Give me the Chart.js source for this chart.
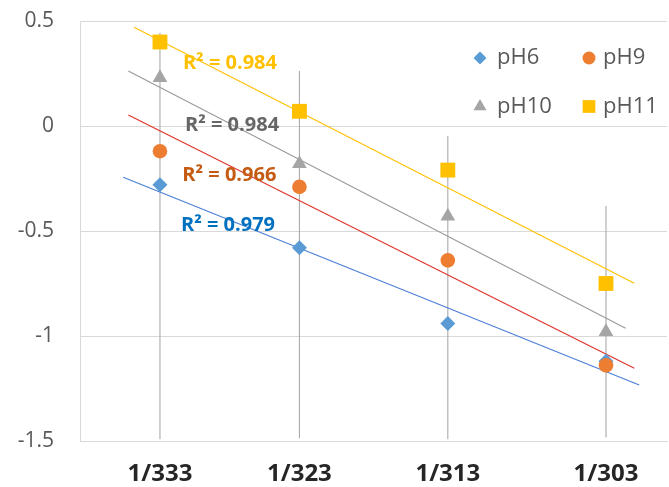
<!DOCTYPE html>
<html><head><meta charset="utf-8">
<script src="https://cdn.jsdelivr.net/npm/chart.js@4"></script>
<style>html,body{margin:0;padding:0;background:#fff;}#wrap{width:669px;height:487px;}</style>
</head><body><div id="wrap"><canvas id="c" width="669" height="487"></canvas></div>
<script>
// ---- data ----
const temperatures = [333, 323, 313, 303];
const xTickLabels = ['1/333', '1/323', '1/313', '1/303'];
const xValues = temperatures.map(t => 1 / t);
const seriesNames = ['pH6', 'pH9', 'pH10', 'pH11'];
const pH6 = [-0.28, -0.58, -0.94, -1.12];
const pH9 = [-0.12, -0.29, -0.64, -1.14];
const pH10 = [0.23, -0.18, -0.43, -0.98];
const pH11 = [0.40, 0.07, -0.21, -0.75];
const rSquared = ['0.979', '0.966', '0.984', '0.984'];
// trendline end points
const trendStartX = [0.0029785, 0.0029819, 0.0029819, 0.0029857];
const trendStartY = [-0.244, 0.052, 0.262, 0.470];
const trendEndX = [0.0033225, 0.0033192, 0.0033134, 0.0033192];
const trendEndY = [-1.233, -1.154, -0.963, -0.749];
// vertical error bars
const errorTop = [0.444, 0.262, -0.048, -0.381];
const errorBottom = [-1.492, -1.487, -1.492, -1.483];
const yTicks = [-1.5, -1, -0.5, 0, 0.5];

// ---- styles ----
const seriesValues = [pH6, pH9, pH10, pH11];
const markerColors = ['#5B9BD5', '#ED7D31', '#A5A5A5', '#FFC000'];
const markerStyles = ['rectRot', 'circle', 'triangle', 'rect'];
const markerRadius = [7.5, 7.3, 8.5, 10.5];
const legendRadius = [6.5, 6.5, 7.5, 9];
const trendColors = ['#4A7FD6', '#E0322B', '#9A9A9A', '#FFC000'];
const labelColors = ['#0070C0', '#C55A11', '#666666', '#FFC000'];
const labelAnchors = [
  {x: 0.0030170, y: -0.473},
  {x: 0.0030179, y: -0.233},
  {x: 0.0030197, y: 0.005},
  {x: 0.0030183, y: 0.30}
];
const legendLayout = [
  {x: 480, y: 58, tx: 497}, {x: 589, y: 58, tx: 603},
  {x: 480, y: 106.5, tx: 497}, {x: 589, y: 106.5, tx: 603}
];
const FONT = "'Open Sans', 'DejaVu Sans', sans-serif";

const datasets = [];
seriesValues.forEach((vals, i) => {
  datasets.push({
    type: 'scatter', label: seriesNames[i],
    data: vals.map((v, k) => ({x: xValues[k], y: v})),
    pointStyle: markerStyles[i], pointRadius: markerRadius[i],
    backgroundColor: markerColors[i], borderColor: markerColors[i], borderWidth: 0,
    showLine: false, order: 1 - i * 0.1
  });
});
seriesValues.forEach((vals, i) => {
  datasets.push({
    type: 'line', label: 'trend ' + seriesNames[i],
    data: [{x: trendStartX[i], y: trendStartY[i]}, {x: trendEndX[i], y: trendEndY[i]}],
    borderColor: trendColors[i], borderWidth: 1.1, pointRadius: 0, fill: false, order: 5
  });
});
xValues.forEach((xv, k) => {
  datasets.push({
    type: 'line', label: 'err' + k,
    data: [{x: xv, y: errorTop[k]}, {x: xv, y: errorBottom[k]}],
    borderColor: '#ABABAB', borderWidth: 1.1, pointRadius: 0, fill: false, order: 10
  });
});

const overlay = {
  id: 'overlay',
  afterDatasetsDraw(chart) {
    const ctx = chart.ctx, xs = chart.scales.x, ys = chart.scales.y;
    ctx.save();
    ctx.font = 'bold 20px ' + FONT;
    ctx.textBaseline = 'middle';
    ctx.textAlign = 'left';
    labelAnchors.forEach((a, i) => {
      ctx.fillStyle = labelColors[i];
      ctx.fillText('R\u00B2 = ' + rSquared[i], xs.getPixelForValue(a.x), ys.getPixelForValue(a.y));
    });
    ctx.font = '22px ' + FONT;
    legendLayout.forEach((L, i) => {
      ctx.fillStyle = markerColors[i];
      ctx.beginPath();
      Chart.helpers.drawPoint(ctx, {pointStyle: markerStyles[i], radius: legendRadius[i], rotation: 0, borderWidth: 0}, L.x, L.y);
      ctx.fillStyle = '#595959';
      ctx.fillText(seriesNames[i], L.tx, L.y);
    });
    ctx.restore();
  }
};

new Chart(document.getElementById('c'), {
  data: {datasets},
  options: {
    responsive: false, animation: false, devicePixelRatio: 1,
    layout: {autoPadding: false, padding: {top: 21, right: 2, left: 0, bottom: 0}},
    plugins: {legend: {display: false}, tooltip: {enabled: false}},
    scales: {
      x: {
        type: 'linear', min: 0.0029497, max: 0.0033410,
        afterBuildTicks: s => { s.ticks = xValues.map(v => ({value: v})); },
        afterFit: s => { s.height = 46; s.paddingLeft = 0; s.paddingRight = 0; },
        grid: {display: false, drawTicks: false},
        border: {display: true, color: '#D9D9D9', width: 1},
        ticks: {autoSkip: false, maxRotation: 0, padding: 19, color: '#262626',
          font: {family: FONT, size: 24, weight: 'bold'},
          callback: (v, i) => xTickLabels[i]}
      },
      y: {
        type: 'linear', min: -1.5, max: 0.5,
        afterBuildTicks: s => { s.ticks = yTicks.map(v => ({value: v})); },
        afterFit: s => { s.width = 80; s.paddingTop = 0; s.paddingBottom = 0; },
        grid: {color: '#D9D9D9', drawTicks: false},
        border: {display: true, color: '#D9D9D9', width: 1},
        ticks: {padding: 26, color: '#595959', font: {family: FONT, size: 21},
          callback: v => String(v)}
      }
    }
  },
  plugins: [overlay]
});
</script></body></html>
